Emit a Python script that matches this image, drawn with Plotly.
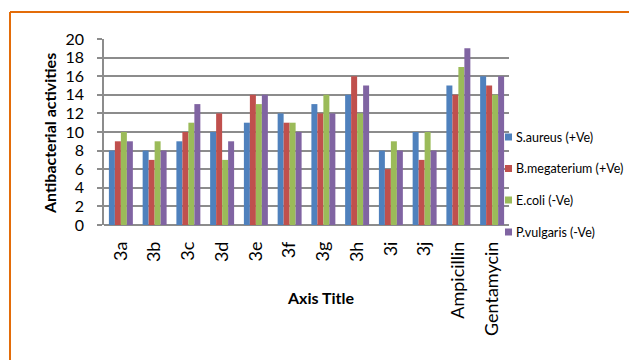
import plotly.graph_objects as go

categories = ["3a", "3b", "3c", "3d", "3e", "3f", "3g", "3h", "3i", "3j", "Ampicillin", "Gentamycin"]
s_aureus = [8, 8, 9, 10, 11, 12, 13, 14, 8, 10, 15, 16]
b_megaterium = [9, 7, 10, 12, 14, 11, 12, 16, 6, 7, 14, 15]
e_coli = [10, 9, 11, 7, 13, 11, 14, 12, 9, 10, 17, 14]
p_vulgaris = [9, 8, 13, 9, 14, 10, 12, 15, 8, 8, 19, 16]
series_names = ["S.aureus (+Ve)", "B.megaterium (+Ve)", "E.coli (-Ve)", "P.vulgaris (-Ve)"]
colors = ["#4F81BD", "#C0504D", "#9BBB59", "#8064A2"]

FONT = "Lato"
fig = go.Figure()
for i, (name, vals) in enumerate(zip(series_names, [s_aureus, b_megaterium, e_coli, p_vulgaris])):
    fig.add_trace(go.Bar(x=categories, y=vals, name=name, marker_color=colors[i],
                         marker_line_width=0, showlegend=False))

L, R, T, B = 104, 120, 39, 135
W, H = 629, 360
pw, ph = W - L - R, H - T - B

def px_x(px):
    return (px - L) / pw

def px_y(py):
    return (H - B - py) / ph

# legend drawn as swatches + text (Excel-style tight legend)
legend_shapes = []
legend_annots = []
entry_y = [137, 168.5, 200, 232]
for i, name in enumerate(series_names):
    yc = entry_y[i]
    legend_shapes.append(dict(type="rect", xref="paper", yref="paper",
                              x0=px_x(505), x1=px_x(512), y0=px_y(yc - 3.5), y1=px_y(yc + 3.5),
                              fillcolor=colors[i], line=dict(width=0)))
    legend_annots.append(dict(text=name, x=px_x(514), y=px_y(yc), xref="paper", yref="paper",
                              showarrow=False, xanchor="left", yanchor="middle",
                              font=dict(size=12.5, family=FONT, color="black")))

fig.update_layout(
    width=W, height=H,
    margin=dict(l=L, r=R, t=T, b=B, pad=0, autoexpand=False),
    paper_bgcolor="white", plot_bgcolor="white",
    barmode="group", bargap=0.29, bargroupgap=0,
    font=dict(family=FONT, color="black"),
    showlegend=False,
    xaxis=dict(tickangle=-90, tickfont=dict(size=18, family=FONT), showgrid=False,
               showline=False, ticks="", ticklen=0, ticklabelstandoff=12, automargin=False),
    yaxis=dict(range=[0, 20], dtick=2, tickfont=dict(size=16, family=FONT),
               showgrid=True, gridcolor="#8C8C8C", gridwidth=1.5,
               showline=True, linecolor="#8C8C8C", linewidth=1.5,
               ticks="outside", ticklen=5, tickcolor="#8C8C8C", tickwidth=1.5,
               ticklabelstandoff=10, automargin=False,
               zeroline=True, zerolinecolor="#8C8C8C", zerolinewidth=1.5),
    annotations=[
        dict(text="<b>Axis Title</b>", x=px_x(320), y=px_y(297), xref="paper", yref="paper",
             showarrow=False, font=dict(size=16, family=FONT), xanchor="center", yanchor="middle"),
        dict(text="<b>Antibacterial activities</b>", x=px_x(49), y=px_y(134), xref="paper", yref="paper",
             showarrow=False, textangle=-90, font=dict(size=16, family=FONT),
             xanchor="center", yanchor="middle"),
    ] + legend_annots,
    shapes=[
        dict(type="line", xref="paper", yref="paper", x0=px_x(10), x1=px_x(640), y0=px_y(12), y1=px_y(12),
             line=dict(color="#E36C09", width=2)),
        dict(type="line", xref="paper", yref="paper", x0=px_x(10), x1=px_x(10), y0=px_y(12), y1=px_y(370),
             line=dict(color="#E36C09", width=2)),
    ] + legend_shapes,
)

fig.write_html("out.html")
